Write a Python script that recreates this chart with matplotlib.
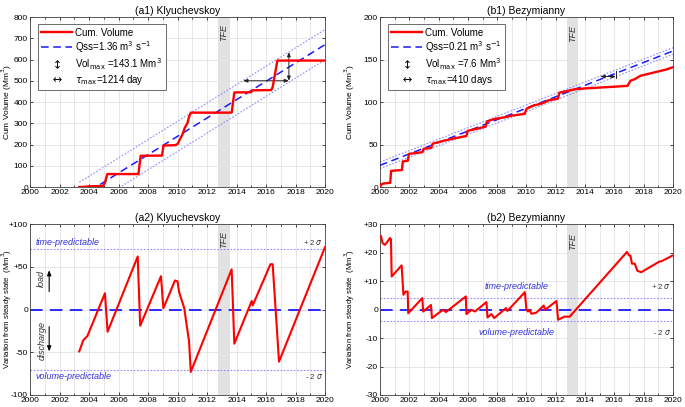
import matplotlib
matplotlib.use('Agg')
import matplotlib.pyplot as plt
from matplotlib.lines import Line2D
from matplotlib.ticker import MultipleLocator

plt.rcParams['font.family'] = ['Liberation Sans', 'DejaVu Sans']
plt.rcParams['axes.linewidth'] = 0.6
plt.rcParams['axes.edgecolor'] = '#404040'
plt.rcParams['xtick.direction'] = 'in'
plt.rcParams['ytick.direction'] = 'in'
plt.rcParams['xtick.labelsize'] = 6
plt.rcParams['ytick.labelsize'] = 6

# ---- Klyuchevskoy: cumulative erupted volume (Mm3)
klyu_year = [2003.34, 2003.7, 2003.95, 2004.5, 2004.95, 2005.08, 2005.24, 2007.35, 2007.5,
             2008.95, 2009.05, 2009.85, 2010.0, 2010.17, 2010.35, 2010.5, 2010.67, 2010.78,
             2010.9, 2013.67, 2013.85, 2015.0, 2015.05, 2016.35, 2016.45, 2016.77, 2020.0]
klyu_cum = [0, 1, 3, 4, 5, 20, 61, 61, 147,
            148, 195, 197, 202, 225, 250, 280, 300, 330,
            350, 350, 445, 446, 455, 456, 470, 595, 595]
# steady-state line end points and 2-sigma half width
klyu_ss_year = [2003.34, 2020.0]
klyu_ss_vol = [-49, 670]
klyu_sigma2 = 71
# Klyuchevskoy: variation from steady state (Mm3)
klyu_dev_year = [2003.34, 2003.61, 2003.89, 2005.08, 2005.26, 2007.3, 2007.47, 2008.88, 2009.04,
                 2009.83, 2010.0, 2010.1, 2010.3, 2010.46, 2010.6, 2010.78, 2010.9, 2013.67,
                 2013.85, 2015.03, 2015.1, 2016.3, 2016.45, 2016.88, 2020.0]
klyu_dev = [-49, -36, -31, 19, -26, 62, -19, 39, 1.5,
            34, 33, 21, 10, 1.5, -16, -37, -73, 47,
            -40, 10, 5, 53, 53, -61, 73]
klyu_dev_ticks = [-100, -50, 0, 50, 100]
klyu_dev_labels = ['-100', '-50', '0', '+50', '+100']

# ---- Bezymianny: cumulative erupted volume (Mm3)
bezy_year = [2000.0, 2000.1, 2000.2, 2000.7, 2000.76, 2001.5, 2001.56, 2001.9, 2001.98,
             2002.9, 2002.98, 2003.5, 2003.6, 2004.5, 2005.0, 2005.9, 2005.98, 2007.2,
             2007.3, 2007.8, 2008.5, 2009.0, 2009.88, 2010.0, 2010.5, 2011.0, 2011.3,
             2011.5, 2012.15, 2012.25, 2012.8, 2013.3, 2014.0, 2015.0, 2016.0, 2016.9,
             2017.1, 2017.4, 2017.8, 2018.3, 2019.0, 2019.5, 2020.0]
bezy_cum = [0, 3, 4, 5, 19, 20, 30, 31, 39,
            41, 45, 46, 51, 55, 57, 60, 66, 71,
            77, 80, 82, 84, 86, 92, 96, 98, 100,
            102, 104, 111, 113, 115, 116, 117, 118, 119,
            125, 127, 131, 133, 136, 138, 141]
bezy_ss_year = [2000.0, 2020.0]
bezy_ss_vol = [25.5, 160]
bezy_sigma2 = 3.9
# Bezymianny: variation from steady state (Mm3)
bezy_dev_year = [2000.07, 2000.18, 2000.34, 2000.52, 2000.68, 2000.75, 2000.8, 2001.48, 2001.6,
                 2001.75, 2001.89, 2001.93, 2002.89, 2002.95, 2003.48, 2003.55, 2003.98, 2004.32,
                 2004.5, 2005.86, 2005.9, 2006.25, 2006.48, 2007.27, 2007.34, 2007.61, 2007.8,
                 2008.6, 2008.7, 2009.89, 2010.0, 2010.1, 2010.2, 2010.34, 2010.68, 2011.18,
                 2011.27, 2012.05, 2012.16, 2012.6, 2012.95, 2016.86, 2017.0, 2017.1, 2017.2,
                 2017.39, 2017.57, 2017.84, 2018.4, 2019.1, 2019.2, 2019.66, 2019.95]
bezy_dev = [25.7, 23.3, 22.7, 23.9, 25.1, 24.7, 11.6, 15.5, 5.2,
            6.3, 6.3, -1.3, 4.0, -0.7, 1.6, -3.0, -1.3, -0.1,
            -0.9, 4.6, -1.6, -0.1, -0.7, 2.6, -2.8, -1.6, -3.0,
            0.5, -0.5, 6.1, -0.1, -0.7, -0.1, -1.5, -1.1, 1.4,
            -0.1, 3.0, -3.6, -2.5, -2.5, 20.2, 19.0, 18.9, 16.1,
            16.1, 13.6, 13.1, 14.8, 16.9, 16.9, 18.1, 18.9]
bezy_dev_ticks = [-30, -20, -10, 0, 10, 20, 30]
bezy_dev_labels = ['-30', '-20', '-10', '0', '+10', '+20', '+30']

tfe_span = (2012.75, 2013.55)
red = '#ff0000'
blue = '#1a1aff'
light_blue = '#8c8cff'
arrow_style = '<|-|>,head_length=0.25,head_width=0.1'


def style_axis(ax, ymin, ymax, ystep):
    ax.set_xlim(2000, 2020)
    ax.set_ylim(ymin, ymax)
    ax.xaxis.set_major_locator(MultipleLocator(2))
    ax.xaxis.set_minor_locator(MultipleLocator(1))
    ax.yaxis.set_major_locator(MultipleLocator(ystep))
    ax.grid(which='major', color='#e3e3e3', lw=0.6)
    ax.grid(which='minor', axis='x', color='#e3e3e3', lw=0.6)
    ax.tick_params(which='both', top=True, right=True, length=2.5, width=0.5, pad=1.5)
    ax.tick_params(which='minor', length=1.5)
    ax.set_axisbelow(True)


def add_tfe(ax, ytext):
    ax.axvspan(tfe_span[0], tfe_span[1], color='#e2e2e2', lw=0, zorder=1)
    ax.text(sum(tfe_span) / 2, ytext, 'TFE', rotation=90, style='italic',
            ha='center', va='center', fontsize=6.5, color='#333333')


def double_arrow(ax, p0, p1):
    ax.annotate('', xy=p0, xytext=p1,
                arrowprops=dict(arrowstyle=arrow_style, color='#222222', lw=0.7,
                                shrinkA=0, shrinkB=0))


def cum_legend(ax, qss, vmax, tmax):
    handles = [Line2D([], [], color=red, lw=1.7),
               Line2D([], [], color=blue, lw=1.1, ls=(0, (5, 3))),
               Line2D([], [], ls='none', marker=r'$\updownarrow$', color='k', markersize=6, mew=0),
               Line2D([], [], ls='none', marker=r'$\leftrightarrow$', color='k', markersize=6, mew=0)]
    labels = ['Cum. Volume',
              'Qss=%s m$^3$ s$^{-1}$' % qss,
              'Vol$_{\\mathrm{max}}$ =%s Mm$^3$' % vmax,
              '$\\tau_{\\mathrm{max}}$=%s' % tmax]
    leg = ax.legend(handles, labels, loc='upper left', fontsize=7, handlelength=3.2,
                    handletextpad=0.3, borderpad=0.35, labelspacing=0.12, fancybox=False,
                    framealpha=1, edgecolor='#555555', bbox_to_anchor=(0.01, 0.985))
    leg.get_frame().set_linewidth(0.6)


def dev_labels(ax, sigma2, xtext, off, top_label, bot_label):
    ax.axhline(0, color=blue, lw=1.3, ls=(0, (7, 4)), zorder=2)
    ax.axhline(sigma2, color=light_blue, lw=0.8, ls=(0, (1.5, 1.5)), zorder=2)
    ax.axhline(-sigma2, color=light_blue, lw=0.8, ls=(0, (1.5, 1.5)), zorder=2)
    ax.text(xtext, sigma2 + off, 'time-predictable', color='#3333dd', style='italic',
            fontsize=6.5, ha=top_label, va='center')
    ax.text(xtext, -sigma2 - off, 'volume-predictable', color='#3333dd', style='italic',
            fontsize=6.5, ha=bot_label, va='center')
    ax.text(2019.85, sigma2 + off, '+ 2 $\\sigma$', fontsize=5.5, color='#333333', ha='right', va='center')
    ax.text(2019.85, -sigma2 - off, '- 2 $\\sigma$', fontsize=5.5, color='#333333', ha='right', va='center')


fig = plt.figure(figsize=(6.85, 4.07), dpi=100)
ax_a1 = fig.add_axes([0.0438, 0.5405, 0.4307, 0.4177])
ax_b1 = fig.add_axes([0.5547, 0.5405, 0.4277, 0.4177])
ax_a2 = fig.add_axes([0.0438, 0.0295, 0.4307, 0.4200])
ax_b2 = fig.add_axes([0.5547, 0.0295, 0.4277, 0.4200])

# (a1) Klyuchevskoy cumulative volume
ax = ax_a1
style_axis(ax, 0, 800, 100)
add_tfe(ax, 725)
for k in (1, -1):
    ax.plot(klyu_ss_year, [v + k * klyu_sigma2 for v in klyu_ss_vol],
            color=light_blue, lw=0.8, ls=(0, (1.5, 1.5)), zorder=2)
ax.plot(klyu_ss_year, klyu_ss_vol, color=blue, lw=1.1, ls=(0, (5, 3)), zorder=3)
ax.plot(klyu_year, klyu_cum, color=red, lw=1.7, zorder=4)
double_arrow(ax, (2014.45, 500), (2017.55, 500))
double_arrow(ax, (2017.55, 500), (2017.55, 635))
cum_legend(ax, '1.36', '143.1', '1214 day')
ax.set_title('(a1) Klyuchevskoy', fontsize=7.5, pad=2.5)
ax.set_ylabel('Cum Volume (Mm$^3$)', fontsize=6.0)
ax.yaxis.set_label_coords(-0.055, 0.5)

# (b1) Bezymianny cumulative volume
ax = ax_b1
style_axis(ax, 0, 200, 50)
add_tfe(ax, 181)
for k in (1, -1):
    ax.plot(bezy_ss_year, [v + k * bezy_sigma2 for v in bezy_ss_vol],
            color=light_blue, lw=0.8, ls=(0, (1.5, 1.5)), zorder=2)
ax.plot(bezy_ss_year, bezy_ss_vol, color=blue, lw=1.1, ls=(0, (5, 3)), zorder=3)
ax.plot(bezy_year, bezy_cum, color=red, lw=1.7, zorder=4)
double_arrow(ax, (2015.05, 130), (2016.1, 130))
ax.plot([2016.1, 2016.1], [128, 136], color='#222222', lw=0.7, zorder=5)
cum_legend(ax, '0.21', '7.6', '410 days')
ax.set_title('(b1) Bezymianny', fontsize=7.5, pad=2.5)
ax.set_ylabel('Cum Volume (Mm$^3$)', fontsize=6.0)
ax.yaxis.set_label_coords(-0.08, 0.5)

# (a2) Klyuchevskoy deviation
ax = ax_a2
style_axis(ax, -100, 100, 50)
ax.set_yticks(klyu_dev_ticks)
ax.set_yticklabels(klyu_dev_labels)
add_tfe(ax, 82)
dev_labels(ax, klyu_sigma2, 2000.4, 7.5, 'left', 'left')
ax.plot(klyu_dev_year, klyu_dev, color=red, lw=1.5, zorder=4)
ax.text(2000.8, 36, 'load', rotation=90, style='italic', fontsize=6.5, ha='center', va='center', color='#333333')
ax.text(2000.8, -36, 'discharge', rotation=90, style='italic', fontsize=6.5, ha='center', va='center', color='#333333')
ax.annotate('', xy=(2001.3, 46), xytext=(2001.3, 21),
            arrowprops=dict(arrowstyle='-|>,head_length=0.3,head_width=0.12', color='k', lw=0.8,
                            shrinkA=0, shrinkB=0))
ax.annotate('', xy=(2001.3, -49), xytext=(2001.3, -20),
            arrowprops=dict(arrowstyle='-|>,head_length=0.3,head_width=0.12', color='k', lw=0.8,
                            shrinkA=0, shrinkB=0))
ax.set_title('(a2) Klyuchevskoy', fontsize=7.5, pad=2.5)
ax.set_ylabel('Variation from steady state  (Mm$^3$)', fontsize=5.6)
ax.yaxis.set_label_coords(-0.055, 0.5)

# (b2) Bezymianny deviation
ax = ax_b2
style_axis(ax, -30, 30, 10)
ax.set_yticks(bezy_dev_ticks)
ax.set_yticklabels(bezy_dev_labels)
add_tfe(ax, 24)
dev_labels(ax, bezy_sigma2, 2009.3, 4.2, 'center', 'center')
ax.plot(bezy_dev_year, bezy_dev, color=red, lw=1.5, zorder=4)
ax.set_title('(b2) Bezymianny', fontsize=7.5, pad=2.5)
ax.set_ylabel('Variation from steady state  (Mm$^3$)', fontsize=5.6)
ax.yaxis.set_label_coords(-0.08, 0.5)

fig.savefig('out.png', dpi=100)
